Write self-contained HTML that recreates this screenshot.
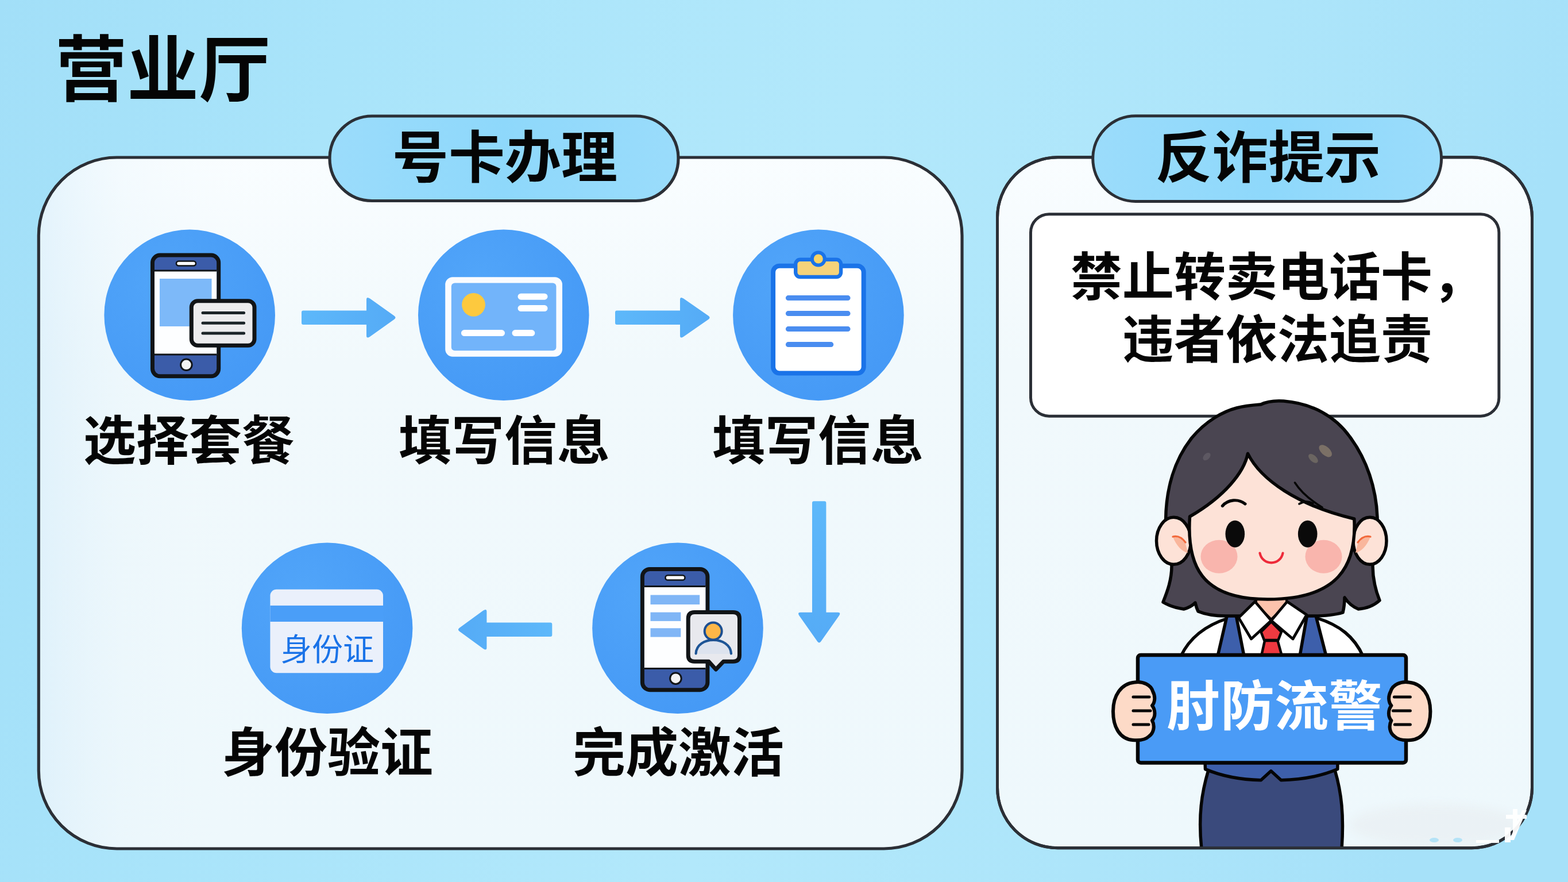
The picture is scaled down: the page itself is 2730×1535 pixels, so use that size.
<!DOCTYPE html>
<html lang="zh-CN">
<head>
<meta charset="utf-8">
<title>营业厅 - 号卡办理 / 反诈提示</title>
<style>
html,body{margin:0;padding:0;background:#aee6fb}
body{position:relative;width:2730px;height:1535px;overflow:hidden;font-family:"Liberation Sans","Noto Sans CJK SC",sans-serif}
svg{position:absolute;left:0;top:0;display:block}
.tx{position:absolute;margin:0;color:#050505;font-family:"Liberation Sans","Noto Sans CJK SC",sans-serif;font-weight:700;white-space:nowrap;line-height:1;user-select:none;pointer-events:none}
</style>
</head>
<body>
<svg width="2730" height="1535" viewBox="0 0 2730 1535" role="img" aria-label="营业厅 号卡办理流程与反诈提示"><defs>
<linearGradient id="bg" x1="0" y1="0" x2="1" y2="0.12">
<stop offset="0" stop-color="#a2dff8"/><stop offset=".22" stop-color="#a9e4fa"/><stop offset=".55" stop-color="#b2e8fb"/><stop offset=".8" stop-color="#ade5fa"/><stop offset="1" stop-color="#a6e1f9"/>
</linearGradient>
<linearGradient id="pn" x1="0" y1="0" x2="0" y2="1">
<stop offset="0" stop-color="#f9fdff"/><stop offset=".3" stop-color="#f1f9fc"/><stop offset="1" stop-color="#eef8fc"/>
</linearGradient>
<linearGradient id="pnl" x1="0" y1="0" x2="1" y2="0">
<stop offset="0" stop-color="#cfeafa" stop-opacity=".5"/><stop offset=".09" stop-color="#dff1fb" stop-opacity=".2"/><stop offset=".22" stop-color="#eef8fc" stop-opacity="0"/>
</linearGradient>
<linearGradient id="pill" x1="0" y1="0" x2="1" y2="0">
<stop offset="0" stop-color="#9bdcfb"/><stop offset=".5" stop-color="#8ed8fb"/><stop offset="1" stop-color="#9adcfb"/>
</linearGradient>
<radialGradient id="cg" cx=".35" cy=".3" r=".9">
<stop offset="0" stop-color="#51a5f9"/><stop offset="1" stop-color="#4397f5"/>
</radialGradient>
<linearGradient id="ar" x1="0" y1="0" x2="1" y2="0">
<stop offset="0" stop-color="#5db8fa"/><stop offset="1" stop-color="#55abf6"/>
</linearGradient>
<filter id="blur8" x="-20%" y="-20%" width="140%" height="140%"><feGaussianBlur stdDeviation="8"/></filter>
<filter id="blur2" x="-20%" y="-20%" width="140%" height="140%"><feGaussianBlur stdDeviation="1.2"/></filter>
</defs>
<rect width="2730" height="1535" fill="url(#bg)"/>
<rect x="67.3" y="274" width="1607.7" height="1203" rx="136" fill="url(#pn)"/>
<rect x="67.3" y="274" width="1607.7" height="1203" rx="136" fill="url(#pnl)" stroke="#2b2f36" stroke-width="5.2"/>
<rect x="1736.5" y="273.8" width="931.0" height="1202.0" rx="105" fill="url(#pn)" stroke="#2b2f36" stroke-width="5"/>
<circle cx="330.2" cy="548.4" r="148.8" fill="url(#cg)"/>
<circle cx="876.8" cy="548.2" r="148.8" fill="url(#cg)"/>
<circle cx="1424.9" cy="548.4" r="148.8" fill="url(#cg)"/>
<circle cx="569.6" cy="1093.2" r="148.8" fill="url(#cg)"/>
<circle cx="1180" cy="1093.2" r="148.8" fill="url(#cg)"/>
<path d="M528,540.5 H638 V521.5999999999999 Q638,515.5999999999999 644,519.5999999999999 L686.5,549.8 Q690.5,552.8 686.5,555.8 L644,586.0 Q638,590.0 638,584.0 V565.0999999999999 H528 Q525,565.0999999999999 525,562.0999999999999 V543.5 Q525,540.5 528,540.5 Z" fill="url(#ar)"/>
<path d="M1074,540.5 H1184 V521.5999999999999 Q1184,515.5999999999999 1190,519.5999999999999 L1233.6,549.8 Q1237.6,552.8 1233.6,555.8 L1190,586.0 Q1184,590.0 1184,584.0 V565.0999999999999 H1074 Q1071,565.0999999999999 1071,562.0999999999999 V543.5 Q1071,540.5 1074,540.5 Z" fill="url(#ar)"/>
<g transform="translate(1758.1999999999998,0) scale(-1,1)"><path d="M799.9,1083.5 H910.8 V1064.6 Q910.8,1058.6 916.8,1062.6 L958.3,1092.8 Q962.3,1095.8 958.3,1098.8 L916.8,1129.0 Q910.8,1133.0 910.8,1127.0 V1108.1 H799.9 Q796.9,1108.1 796.9,1105.1 V1086.5 Q796.9,1083.5 799.9,1083.5 Z" fill="url(#ar)"/></g>
<g transform="translate(1426.2,872.3) rotate(90)"><path d="M3,-12.2 H193.5 V-32.5 Q193.5,-38.5 199.5,-34.5 L244.2,-3 Q248.2,0 244.2,3 L199.5,34.5 Q193.5,38.5 193.5,32.5 V12.2 H3 Q0,12.2 0,9.2 V-9.2 Q0,-12.2 3,-12.2 Z" fill="url(#ar)"/></g>
<rect x="265.5" y="444.1" width="115.19999999999999" height="210.69999999999993" rx="13" fill="#3b5ca9" stroke="#111417" stroke-width="7"/><rect x="269" y="471" width="108.19999999999999" height="146" fill="#fdfeff"/><path d="M269,471H377.2M269,617H377.2" stroke="#111417" stroke-width="3" fill="none"/><rect x="307" y="454.5" width="34" height="8.0" rx="4.0" fill="#fff" stroke="#111417" stroke-width="2.6"/><circle cx="324.4" cy="634.8" r="9.8" fill="#f4f4f4" stroke="#111417" stroke-width="3"/>
<rect x="278" y="485" width="90.5" height="83" fill="#7db9f9"/>
<rect x="333.3" y="523.7" width="109.69999999999999" height="77.59999999999991" rx="11" fill="#ececee" stroke="#111417" stroke-width="7"/>
<path d="M353,544.4H424.6M353,562.2H424.6M353,580H424.6" stroke="#1b2428" stroke-width="5" stroke-linecap="round" fill="none"/>
<rect x="775.2" y="482.2" width="203.8" height="138.5" rx="13" fill="#fafcff"/>
<rect x="785.8" y="492.6" width="182.6" height="117.7" rx="6" fill="#72b4fa"/>
<circle cx="824.5" cy="530.3" r="20.4" fill="#fdc93e"/>
<path d="M907,516.2H948M907,536.6H948M808.4,579.6H873.5M897,579.6H925.8" stroke="#fff" stroke-width="11" stroke-linecap="round" fill="none"/>
<rect x="1346.1" y="462.7" width="157.60000000000014" height="186.90000000000003" rx="11" fill="#fff" stroke="#1a73e8" stroke-width="8"/>
<rect x="1385.2" y="451.8" width="78.9" height="30.2" rx="8" fill="#f6d37a" stroke="#1a73e8" stroke-width="6.4"/>
<circle cx="1424.8" cy="450.5" r="11" fill="#fbd262" stroke="#1a73e8" stroke-width="6"/>
<path d="M1372.4,518.6H1476.1M1372.4,545.6H1476.1M1372.4,572.6H1476.1M1372.4,599.6H1446.8" stroke="#4a8df0" stroke-width="9" stroke-linecap="round" fill="none"/>
<rect x="470.4" y="1025.7" width="196.6" height="145.6" rx="11" fill="#eaf0fb"/>
<rect x="470.4" y="1053.9" width="196.6" height="28.1" fill="#4a9ef8"/>
<rect x="1118.4" y="990.4" width="113.5" height="210.30000000000007" rx="13" fill="#3b5ca9" stroke="#111417" stroke-width="7"/><rect x="1121.9" y="1020.5" width="106.5" height="143.0" fill="#fdfeff"/><path d="M1121.9,1020.5H1228.4M1121.9,1163.5H1228.4" stroke="#111417" stroke-width="3" fill="none"/><rect x="1158.5" y="1001.3" width="34.0" height="8.200000000000045" rx="4.100000000000023" fill="#fff" stroke="#111417" stroke-width="2.6"/><circle cx="1176.4" cy="1180.7" r="9.8" fill="#f4f4f4" stroke="#111417" stroke-width="3"/>
<rect x="1132.5" y="1035.5" width="85.7" height="16.5" fill="#80b6f6"/><rect x="1132.5" y="1065.6" width="52.8" height="15.3" fill="#80b6f6"/><rect x="1132.5" y="1093.3" width="52.8" height="15.3" fill="#80b6f6"/>
<path d="M1209.2,1065.6 H1276.5 Q1287.5,1065.6 1287.5,1076.6 V1140.3 Q1287.5,1151.3 1276.5,1151.3 H1259.5 L1246.4,1165 L1234,1151.3 H1209.2 Q1198.2,1151.3 1198.2,1140.3 V1076.6 Q1198.2,1065.6 1209.2,1065.6 Z" fill="#e8e9ee" stroke="#111417" stroke-width="7" stroke-linejoin="round"/>
<path d="M1211.6,1138 C1213,1107 1271,1107 1273,1138 Z" fill="#dde3ee"/>
<path d="M1211.6,1137.5 C1213,1106 1271,1106 1273,1137.5" fill="none" stroke="#1d5596" stroke-width="4.2" stroke-linecap="round"/>
<circle cx="1241.7" cy="1098.5" r="15" fill="#fdb748" stroke="#1d4f91" stroke-width="4"/>
<rect x="1794.5" y="372.7" width="815.3000000000002" height="351.50000000000006" rx="32" fill="#fff" stroke="#2b2f36" stroke-width="5"/>
<clipPath id="rp"><rect x="1736.5" y="273.8" width="931" height="1202" rx="105"/></clipPath>
<g clip-path="url(#rp)"><ellipse cx="2500" cy="1436" rx="150" ry="36" fill="#e8edf0" opacity=".6" filter="url(#blur8)"/></g>
<g clip-path="url(#rp)"><path d="M2104,1340 C2092,1380 2086,1420 2092,1478 L2336,1478 C2340,1420 2336,1380 2324,1340 Z" fill="#3a4a7c" stroke="#050505" stroke-width="5.5" stroke-linejoin="round"/><path d="M2098,1325 L2098.5,1338.6 C2130,1352 2165,1357 2195.4,1357.7 L2212.9,1341.8 L2230.4,1357.7 C2262,1357 2298,1352 2328.8,1338.6 L2329,1325 Z" fill="#3d5fab" stroke="#050505" stroke-width="5.5" stroke-linejoin="round"/><path d="M2056,1142 C2072,1108 2100,1088 2138,1076 L2294,1076 C2332,1088 2358,1108 2373,1142 Z" fill="#fff" stroke="#050505" stroke-width="5.5" stroke-linejoin="round"/><path d="M2139,1060 L2150,1060 L2166,1142 L2120,1142 Z" fill="#3d5fab" stroke="#050505" stroke-width="5.5" stroke-linejoin="round"/><path d="M2288,1060 L2277.5,1060 L2263,1142 L2309,1142 Z" fill="#3d5fab" stroke="#050505" stroke-width="5.5" stroke-linejoin="round"/><path d="M2195,704 C2205,699 2220,697 2235,698 C2285,702 2325,725 2350,760 C2380,800 2396,850 2398,900 C2399,935 2392,960 2390,985 C2390,1010 2396,1030 2402,1045 C2392,1054 2378,1059 2365,1060 C2355,1056 2347,1049 2341,1040 C2341,1050 2340,1058 2338,1066 C2322,1071 2300,1072 2283,1072 L2134,1072 C2115,1072 2098,1069 2086,1064 C2083,1058 2082,1053 2081,1049 C2076,1054 2069,1058 2061,1060 C2048,1058 2035,1054 2025,1048 C2032,1030 2040,1010 2040,985 C2036,960 2029,935 2029.6,905 C2030,850 2045,800 2075,762 C2100,732 2130,716 2153,710 C2168,706 2182,705 2195,704 Z" fill="#4a4551" stroke="#050505" stroke-width="5.5" stroke-linejoin="round"/><path d="M2187,1035 L2187,1052 L2213.3,1078 L2240,1052 L2240,1035 Z" fill="#fcc2ac" stroke="#050505" stroke-width="4" stroke-linejoin="round"/><path d="M2202,1115 L2196,1142 L2232,1142 L2224.5,1115 Z" fill="#ee3840" stroke="#050505" stroke-width="4.5" stroke-linejoin="round"/><path d="M2213.3,1082 L2195.5,1099.7 L2201,1114 L2225.5,1114 L2231,1099.7 Z" fill="#ee3a40" stroke="#050505" stroke-width="4.5" stroke-linejoin="round"/><path d="M2185,1047 L2156.5,1075 L2178.5,1112 L2213.3,1080 Z" fill="#fff" stroke="#050505" stroke-width="4.8" stroke-linejoin="round"/><path d="M2241,1047 L2275,1070 L2251,1112 L2213.3,1080 Z" fill="#fff" stroke="#050505" stroke-width="4.8" stroke-linejoin="round"/><ellipse cx="2043.5" cy="941.3" rx="30" ry="41" fill="#fde2d7" stroke="#050505" stroke-width="5.5"/><ellipse cx="2385" cy="941.3" rx="29" ry="41" fill="#fde2d7" stroke="#050505" stroke-width="5.5"/><path d="M2042,934 C2050,934 2058,938 2064,946 L2068,962 C2058,960 2048,950 2042,934 Z" fill="#f9b69c"/><path d="M2042,934 C2050,932 2058,936 2064,944" fill="none" stroke="#f26a3c" stroke-width="3.2" stroke-linecap="round"/><path d="M2386,934 C2378,934 2370,938 2364,946 L2360,962 C2370,960 2380,950 2386,934 Z" fill="#f9b69c"/><path d="M2386,934 C2378,932 2370,936 2364,944" fill="none" stroke="#f26a3c" stroke-width="3.2" stroke-linecap="round"/><path d="M2071.5,899 C2066,983 2090,1043 2207,1043 C2330,1043 2362,985 2357.8,903 C2260,880 2195,835 2172.5,789.4 C2166,822 2132,864 2071.5,899 Z" fill="#fde2d7" stroke="#050505" stroke-width="5.5" stroke-linejoin="round"/><path d="M2254.5,840 C2266,858 2284,872 2302,883" fill="none" stroke="#050505" stroke-width="3.5" stroke-linecap="round"/><path d="M2262,877 C2270,872 2278,872 2286,876" fill="none" stroke="#050505" stroke-width="3.5" stroke-linecap="round"/><ellipse cx="2307.7" cy="784.8" rx="13.5" ry="7.5" transform="rotate(42 2307.7 784.8)" fill="#7b7066"/><ellipse cx="2286.4" cy="797.9" rx="10" ry="5.5" transform="rotate(42 2286.4 797.9)" fill="#6b6561"/><ellipse cx="2101" cy="794.6" rx="8" ry="5" transform="rotate(-45 2101 794.6)" fill="#5d5862"/><path d="M2128.4,880.5 C2138,869 2156,867.5 2167.9,877" fill="none" stroke="#050505" stroke-width="5.2" stroke-linecap="round"/><ellipse cx="2122.5" cy="968.7" rx="32" ry="29" fill="#f9b5ad"/><ellipse cx="2304.5" cy="968.7" rx="32" ry="29" fill="#f9b5ad"/><ellipse cx="2150.3" cy="929.2" rx="16.8" ry="23.5" fill="#0a0a0a"/><ellipse cx="2276.7" cy="929.2" rx="16.8" ry="23.5" fill="#0a0a0a"/><path d="M2193.5,962.6 C2198,985 2229,985 2233.5,962.6" fill="none" stroke="#ee2a3a" stroke-width="4.2" stroke-linecap="round"/><rect x="1981" y="1140" width="467" height="187.5" rx="5" fill="#4a9bf6" stroke="#050505" stroke-width="6.5" stroke-linejoin="round"/><path d="M1975,1187.5 C1990,1185 2004,1192 2007,1203 C2012,1212 2011,1222 2006,1228 C2012,1236 2012,1247 2006,1254 C2011,1263 2009,1275 2001,1281 C1994,1288 1982,1289 1972,1288 C1950,1286 1938,1266 1938,1238 C1938,1210 1952,1190 1975,1187.5 Z" fill="#fddac7" stroke="#050505" stroke-width="6" stroke-linejoin="round"/><path d="M1973,1213H2001M1973,1237H2003M1973,1261H2000" stroke="#050505" stroke-width="5" stroke-linecap="round" fill="none"/><g transform="translate(4428.4,0) scale(-1,1)"><path d="M1975,1187.5 C1990,1185 2004,1192 2007,1203 C2012,1212 2011,1222 2006,1228 C2012,1236 2012,1247 2006,1254 C2011,1263 2009,1275 2001,1281 C1994,1288 1982,1289 1972,1288 C1950,1286 1938,1266 1938,1238 C1938,1210 1952,1190 1975,1187.5 Z" fill="#fddac7" stroke="#050505" stroke-width="6" stroke-linejoin="round"/><path d="M1973,1213H2001M1973,1237H2003M1973,1261H2000" stroke="#050505" stroke-width="5" stroke-linecap="round" fill="none"/></g></g>
<rect x="1736.5" y="273.8" width="931.0" height="1202.0" rx="105" fill="none" stroke="#2b2f36" stroke-width="5"/>
<path d="M2622,1418h36v7h-36zM2634,1408h8v40h-8zM2650,1410l8,0l-22,52h-8zM2570,1462h40v5h-40zM2620,1440h10v26h-10z" fill="#fff" opacity=".95"/>
<ellipse cx="2497" cy="1462" rx="8" ry="4" fill="#a6dff7" opacity=".8"/><ellipse cx="2538" cy="1462" rx="8" ry="4" fill="#a6dff7" opacity=".8"/>
<rect x="574" y="202" width="607" height="147.5" rx="73.75" fill="url(#pill)" stroke="#2b2f36" stroke-width="5.2"/>
<rect x="1902.7" y="201.7" width="606.8999999999999" height="148.8" rx="74.4" fill="url(#pill)" stroke="#2b2f36" stroke-width="5"/>
</svg>
<h1 class="tx" style="left:96px;top:60px;font-size:125px">营业厅</h1>
<h2 class="tx" style="left:683px;top:226px;font-size:98px">号卡办理</h2>
<h2 class="tx" style="left:2012px;top:226px;font-size:98px">反诈提示</h2>
<p class="tx" style="left:145px;top:722px;font-size:92px">选择套餐</p>
<p class="tx" style="left:694px;top:722px;font-size:92px">填写信息</p>
<p class="tx" style="left:1240px;top:722px;font-size:92px">填写信息</p>
<p class="tx" style="left:997px;top:1265px;font-size:92px">完成激活</p>
<p class="tx" style="left:386px;top:1265px;font-size:92px">身份验证</p>
<p class="tx" style="left:489px;top:1104px;font-size:54px;color:#1a73e8;font-weight:400">身份证</p>
<p class="tx" style="left:1864px;top:438px;font-size:90px">禁止转卖电话卡，</p>
<p class="tx" style="left:1954px;top:547px;font-size:90px">违者依法追责</p>
<p class="tx" style="left:2031px;top:1184px;font-size:94px;color:#fff">肘防流警</p>
</body>
</html>
